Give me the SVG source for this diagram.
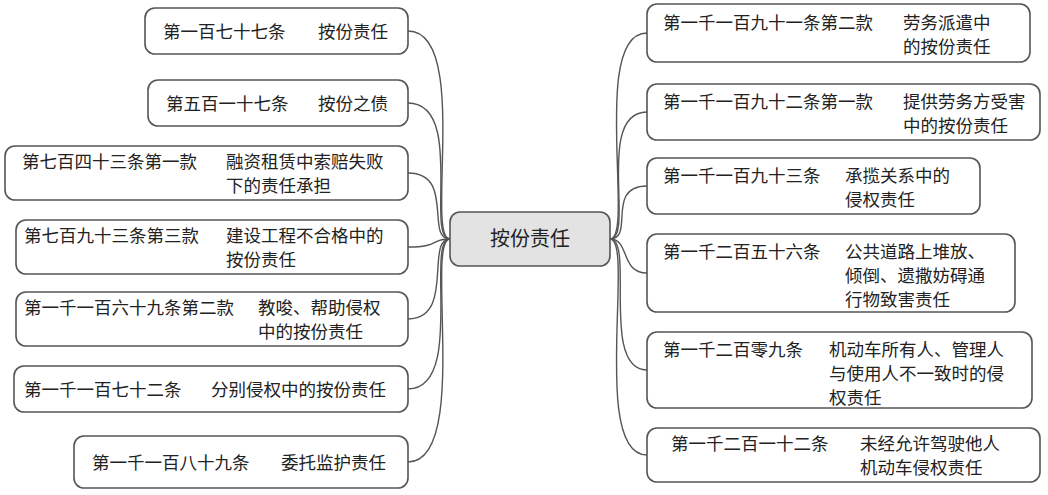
<svg xmlns="http://www.w3.org/2000/svg" width="1048" height="495" viewBox="0 0 1048 495">
<style>
rect{fill:#fff;stroke:#555;stroke-width:1.6}
text{font-family:"Noto Sans CJK SC","Noto Sans",sans-serif;font-size:17.5px;fill:#222}
.c path{fill:none;stroke:#555;stroke-width:1.4}
</style>
<rect x="0" y="0" width="1048" height="495" style="fill:#fff;stroke:none"/>
<g class="c">
<path d="M450,239 C425,239 470,31 408,31"/>
<path d="M450,239 C425,239 465,103 408,103"/>
<path d="M450,239 C425,239 455,173 408,173"/>
<path d="M450,239 C430,239 440,247 408,247"/>
<path d="M450,239 C425,239 455,319 408,319"/>
<path d="M450,239 C425,239 465,389 408,389"/>
<path d="M450,239 C425,239 470,462 408,462"/>
<path d="M610,239 C635,239 590,33 647,33"/>
<path d="M610,239 C635,239 595,112 647,112"/>
<path d="M610,239 C635,239 605,186 647,186"/>
<path d="M610,239 C630,239 620,273 647,273"/>
<path d="M610,239 C635,239 600,370 647,370"/>
<path d="M610,239 C635,239 590,455 647,455"/>
</g>
<g id="center"><rect x="450" y="212" width="160" height="54" rx="10" style="fill:#e3e3e3"/><text x="530" y="246" text-anchor="middle" style="font-size:20px">按份责任</text></g>
<g id="l1"><rect x="145" y="8" width="263" height="46" rx="10"/><text y="38"><tspan x="163">第一百七十七条</tspan><tspan x="318">按份责任</tspan></text></g>
<g id="l2"><rect x="148" y="80" width="260" height="46" rx="10"/><text y="110"><tspan x="166">第五百一十七条</tspan><tspan x="318">按份之债</tspan></text></g>
<g id="l3"><rect x="5" y="146" width="403" height="54" rx="10"/><text y="168"><tspan x="22">第七百四十三条第一款</tspan><tspan x="226">融资租赁中索赔失败</tspan></text><text x="226" y="192">下的责任承担</text></g>
<g id="l4"><rect x="16" y="220" width="392" height="54" rx="10"/><text y="242"><tspan x="24">第七百九十三条第三款</tspan><tspan x="226">建设工程不合格中的</tspan></text><text x="226" y="266">按份责任</text></g>
<g id="l5"><rect x="16" y="292" width="392" height="54" rx="10"/><text y="314"><tspan x="24">第一千一百六十九条第二款</tspan><tspan x="258">教唆、帮助侵权</tspan></text><text x="258" y="338">中的按份责任</text></g>
<g id="l6"><rect x="14" y="366" width="394" height="46" rx="10"/><text y="396"><tspan x="24">第一千一百七十二条</tspan><tspan x="211">分别侵权中的按份责任</tspan></text></g>
<g id="l7"><rect x="74" y="436" width="334" height="52" rx="10"/><text y="469"><tspan x="92">第一千一百八十九条</tspan><tspan x="281">委托监护责任</tspan></text></g>
<g id="r1"><rect x="647" y="4" width="383" height="58" rx="10"/><text y="29"><tspan x="663">第一千一百九十一条第二款</tspan><tspan x="903">劳务派遣中</tspan></text><text x="903" y="53">的按份责任</text></g>
<g id="r2"><rect x="647" y="84" width="393" height="56" rx="10"/><text y="108"><tspan x="663">第一千一百九十二条第一款</tspan><tspan x="903">提供劳务方受害</tspan></text><text x="903" y="132">中的按份责任</text></g>
<g id="r3"><rect x="647" y="158" width="333" height="56" rx="10"/><text y="182"><tspan x="663">第一千一百九十三条</tspan><tspan x="845">承揽关系中的</tspan></text><text x="845" y="206">侵权责任</text></g>
<g id="r4"><rect x="647" y="234" width="368" height="78" rx="10"/><text y="258"><tspan x="663">第一千二百五十六条</tspan><tspan x="845">公共道路上堆放、</tspan></text><text x="845" y="282">倾倒、遗撒妨碍通</text><text x="845" y="306">行物致害责任</text></g>
<g id="r5"><rect x="647" y="332" width="385" height="76" rx="10"/><text y="356"><tspan x="663">第一千二百零九条</tspan><tspan x="829">机动车所有人、管理人</tspan></text><text x="829" y="380">与使用人不一致时的侵</text><text x="829" y="404">权责任</text></g>
<g id="r6"><rect x="647" y="428" width="393" height="54" rx="10"/><text y="450"><tspan x="671">第一千二百一十二条</tspan><tspan x="860">未经允许驾驶他人</tspan></text><text x="860" y="474">机动车侵权责任</text></g>
</svg>
